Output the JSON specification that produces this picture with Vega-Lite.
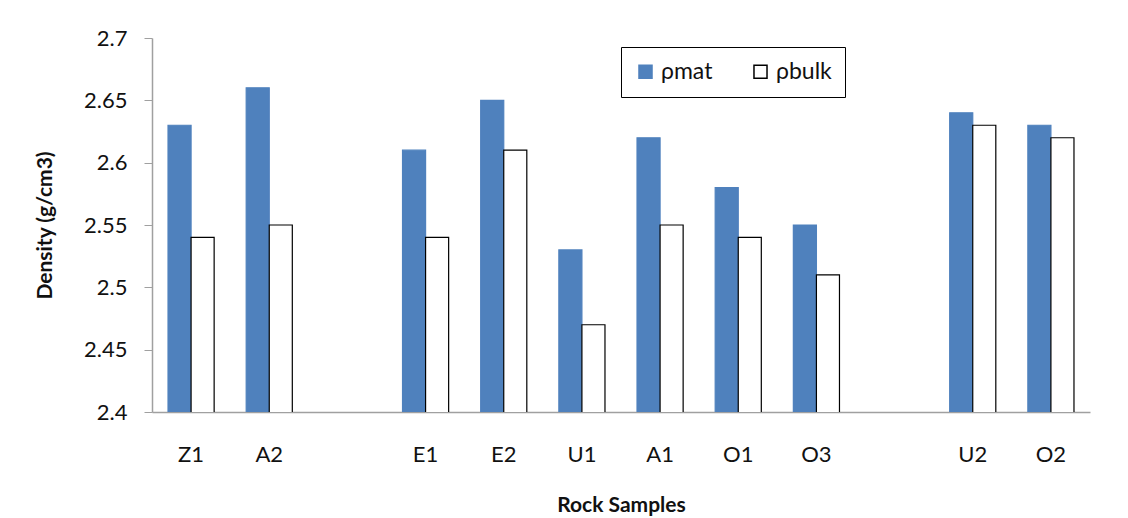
{
  "$schema": "https://vega.github.io/schema/vega-lite/v6.json",
  "autosize": "none",
  "width": 938,
  "height": 374,
  "padding": {"left": 152, "top": 38, "right": 38, "bottom": 106},
  "background": "white",
  "config": {
    "view": {"stroke": null},
    "font": "Lato",
    "axis": {"labelFont": "Lato", "titleFont": "Lato", "labelColor": "#111", "titleColor": "#111"}
  },
  "data": {
    "values": [
      {"sample": "Z1", "type": "ρmat", "density": 2.63},
      {"sample": "Z1", "type": "ρbulk", "density": 2.54},
      {"sample": "A2", "type": "ρmat", "density": 2.66},
      {"sample": "A2", "type": "ρbulk", "density": 2.55},
      {"sample": "E1", "type": "ρmat", "density": 2.61},
      {"sample": "E1", "type": "ρbulk", "density": 2.54},
      {"sample": "E2", "type": "ρmat", "density": 2.65},
      {"sample": "E2", "type": "ρbulk", "density": 2.61},
      {"sample": "U1", "type": "ρmat", "density": 2.53},
      {"sample": "U1", "type": "ρbulk", "density": 2.47},
      {"sample": "A1", "type": "ρmat", "density": 2.62},
      {"sample": "A1", "type": "ρbulk", "density": 2.55},
      {"sample": "O1", "type": "ρmat", "density": 2.58},
      {"sample": "O1", "type": "ρbulk", "density": 2.54},
      {"sample": "O3", "type": "ρmat", "density": 2.55},
      {"sample": "O3", "type": "ρbulk", "density": 2.51},
      {"sample": "U2", "type": "ρmat", "density": 2.64},
      {"sample": "U2", "type": "ρbulk", "density": 2.63},
      {"sample": "O2", "type": "ρmat", "density": 2.63},
      {"sample": "O2", "type": "ρbulk", "density": 2.62}
    ]
  },
  "mark": {"type": "bar", "strokeWidth": 1.2, "clip": true},
  "encoding": {
    "x": {
      "field": "sample",
      "type": "nominal",
      "sort": null,
      "scale": {
        "domain": ["Z1", "A2", "gap1", "E1", "E2", "U1", "A1", "O1", "O3", "gap2", "U2", "O2"],
        "paddingInner": 0.41,
        "paddingOuter": 0.205
      },
      "axis": {
        "title": "Rock Samples",
        "titleFontSize": 21,
        "titleFontWeight": "bold",
        "titlePadding": 29,
        "labelAngle": 0,
        "labelFontSize": 22,
        "labelPadding": 32,
        "ticks": false,
        "domainColor": "#a0a0a0",
        "domainWidth": 1.5,
        "labelExpr": "indexof(datum.label, 'gap') == 0 ? '' : datum.label"
      }
    },
    "xOffset": {"field": "type", "type": "nominal", "sort": ["ρmat", "ρbulk"]},
    "y": {
      "field": "density",
      "type": "quantitative",
      "scale": {"domain": [2.4, 2.7], "zero": false, "nice": false},
      "axis": {
        "title": "Density (g/cm3)",
        "titleFontSize": 21,
        "titleFontWeight": "bold",
        "titlePadding": 28,
        "labelFontSize": 22,
        "labelPadding": 17,
        "values": [2.4, 2.45, 2.5, 2.55, 2.6, 2.65, 2.7],
        "labelExpr": "format(datum.value, '~g')",
        "grid": false,
        "tickSize": 8,
        "tickColor": "#a0a0a0",
        "domainColor": "#a0a0a0",
        "domainWidth": 1.5
      }
    },
    "color": {
      "field": "type",
      "type": "nominal",
      "sort": ["ρmat", "ρbulk"],
      "scale": {"domain": ["ρmat", "ρbulk"], "range": ["#4f81bd", "#ffffff"]},
      "legend": {
        "title": null,
        "orient": "none",
        "direction": "horizontal",
        "legendX": 469,
        "legendY": 9,
        "symbolType": "square",
        "symbolSize": 170,
        "symbolStrokeWidth": 1.5,
        "labelFontSize": 23,
        "labelColor": "#111",
        "columnPadding": 36,
        "padding": 13,
        "strokeColor": "black",
        "fillColor": "white",
        "symbolOpacity": 1
      }
    },
    "stroke": {
      "field": "type",
      "type": "nominal",
      "sort": ["ρmat", "ρbulk"],
      "scale": {"domain": ["ρmat", "ρbulk"], "range": ["#4f81bd", "#000000"]},
      "legend": null
    }
  }
}
